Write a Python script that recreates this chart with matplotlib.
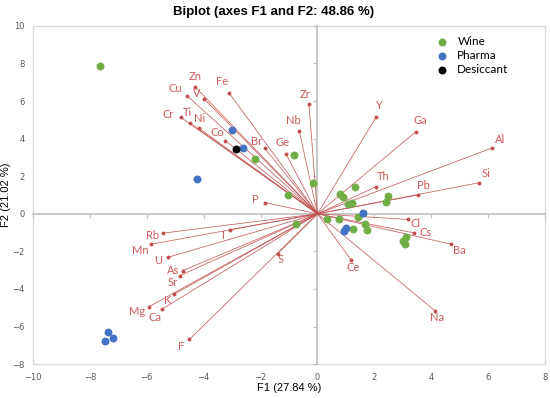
import numpy as np
import matplotlib
matplotlib.use("Agg")
from matplotlib import pyplot as plt
from matplotlib.patches import Rectangle

# variable vectors (loadings scaled)
varNames = ["Zn", "Cu", "V", "Fe", "Cr", "Ti", "Ni", "Co", "Br", "Ge", "Nb", "Zr",
            "Y", "Ga", "Al", "Si", "Th", "Pb", "Cl", "Cs", "Ba", "Ce", "Na",
            "P", "Rb", "I", "Mn", "U", "As", "Sr", "K", "Mg", "Ca", "F", "S"]
varX = [-4.31, -4.57, -3.99, -3.11, -4.81, -4.48, -4.16, -3.24, -1.86, -1.10, -0.64, -0.30,
        2.06, 3.45, 6.13, 5.67, 2.06, 3.53, 3.17, 3.38, 4.70, 1.18, 4.14,
        -1.85, -5.44, -3.09, -5.85, -5.25, -4.73, -4.84, -5.03, -5.92, -5.47, -4.50, -1.40]
varY = [6.77, 6.26, 6.12, 6.44, 5.14, 4.82, 4.55, 3.89, 3.50, 3.16, 4.41, 5.85,
        5.14, 4.36, 3.50, 1.65, 1.44, 1.00, -0.30, -1.01, -1.62, -2.45, -5.17,
        0.60, -1.03, -0.85, -1.62, -2.31, -3.02, -3.29, -4.27, -4.94, -5.08, -6.68, -2.13]

# observations
wineX = [-7.65, -2.19, -0.81, -0.16, -1.04, 1.33, 0.80, 0.90, 1.09, 1.20, 2.49, 2.41,
         1.43, 0.75, 0.32, -0.77, 1.66, 1.73, 1.24, 2.99, 3.07, 3.10]
wineY = [7.89, 2.92, 3.13, 1.64, 1.01, 1.42, 1.08, 0.87, 0.52, 0.59, 0.94, 0.64,
         -0.16, -0.25, -0.25, -0.52, -0.55, -0.87, -0.82, -1.44, -1.58, -1.26]
pharmaX = [-2.99, -2.61, -4.25, 1.61, 1.02, 0.95, -7.38, -7.18, -7.47]
pharmaY = [4.48, 3.48, 1.85, 0.04, -0.76, -0.91, -6.29, -6.60, -6.79]
desX = [-2.85]
desY = [3.45]

# label offsets in pixels (layout only)
labelOffsets = {
    "Zn": (0, 10), "Cu": (-12, 8), "V": (-7, 5), "Fe": (-7, 11), "Cr": (-12, 3),
    "Ti": (-3, 11), "Ni": (0, 10), "Co": (-8, 8), "Br": (-8, 7), "Ge": (-4, 12),
    "Nb": (-6, 10), "Zr": (-4, 9), "Y": (2, 12), "Ga": (5, 11), "Al": (8, 9),
    "Si": (7, 9), "Th": (7, 10), "Pb": (6, 10), "Cl": (8, -4), "Cs": (12, 0),
    "Ba": (8, -6), "Ce": (2, -8), "Na": (2, -7), "P": (-10, 3), "Rb": (-10, -2),
    "I": (-6, -6), "Mn": (-11, -6), "U": (-10, -3), "As": (-10, 0), "Sr": (-7, -7),
    "K": (-7, -6), "Mg": (-12, -5), "Ca": (-7, -8), "F": (-8, -7), "S": (3, -6),
}

xTicks = np.arange(-10, 9, 2)
yTicks = np.arange(-8, 11, 2)

vecColor = "#C0504D"
labColor = "#D05A5A"
tickColor = "#595959"
greyLine = "#BFBFBF"

fig = plt.figure(figsize=(5.5, 3.98), dpi=100)
ax = fig.add_axes([0.06, 0.085, 0.931, 0.85])
ax.set_xlim(-10, 8)
ax.set_ylim(-8, 10)

# zero axes via spines
ax.spines["left"].set_position(("data", 0))
ax.spines["bottom"].set_position(("data", 0))
ax.spines["top"].set_visible(False)
ax.spines["right"].set_visible(False)
for s in ["left", "bottom"]:
    ax.spines[s].set_color(greyLine)
    ax.spines[s].set_linewidth(1.2)
    ax.spines[s].set_zorder(0.5)
ax.set_xticks(xTicks)
ax.set_yticks(yTicks)
ax.tick_params(axis="both", length=3, width=0.8, color=greyLine, direction="out",
               labelbottom=False, labelleft=False)

# outer frame
ax.add_patch(Rectangle((0, 0), 1, 1, transform=ax.transAxes, fill=False,
                       ec="#D9D9D9", lw=1.0, clip_on=False, zorder=0.4))

# tick labels on the frame
secX = ax.secondary_xaxis("bottom")
secX.set_xticks(xTicks)
secX.tick_params(length=0, labelsize=6, labelcolor=tickColor, pad=6)
for s in secX.spines.values():
    s.set_visible(False)
secY = ax.secondary_yaxis("left")
secY.set_yticks(yTicks)
secY.tick_params(length=0, labelsize=6, labelcolor=tickColor, pad=6)
for s in secY.spines.values():
    s.set_visible(False)
secX.set_xlabel("F1 (27.84 %)", fontsize=8, family="Liberation Sans", labelpad=1)
secY.set_ylabel("F2 (21.02 %)", fontsize=8, family="Liberation Sans", labelpad=1)

# vectors
for name, vx, vy in zip(varNames, varX, varY):
    ax.plot([0, vx], [0, vy], color=vecColor, lw=0.6, alpha=0.85, zorder=2)
    ax.plot(vx, vy, "o", color=vecColor, ms=1.8, zorder=2)
    dx, dy = labelOffsets[name]
    ax.annotate(name, (vx, vy), xytext=(dx, dy), textcoords="offset pixels",
                ha="center", va="center", fontsize=8, color=labColor, family="Lato")

ax.scatter(wineX, wineY, s=22, color="#70AD47", zorder=3, label="Wine")
ax.scatter(pharmaX, pharmaY, s=22, color="#4472C4", zorder=3, label="Pharma")
ax.scatter(desX, desY, s=22, color="black", zorder=3, label="Desiccant")

leg = ax.legend(loc="upper right", bbox_to_anchor=(0.945, 0.995), frameon=False,
                prop={"family": "Lato", "size": 8.5}, handletextpad=0.3,
                labelspacing=0.25, borderaxespad=0.3)

fig.suptitle("Biplot (axes F1 and F2: 48.86 %)", x=0.498, y=0.985, fontsize=9.5,
             fontweight="bold", family="Liberation Sans")

fig.savefig("out.png", dpi=100)
